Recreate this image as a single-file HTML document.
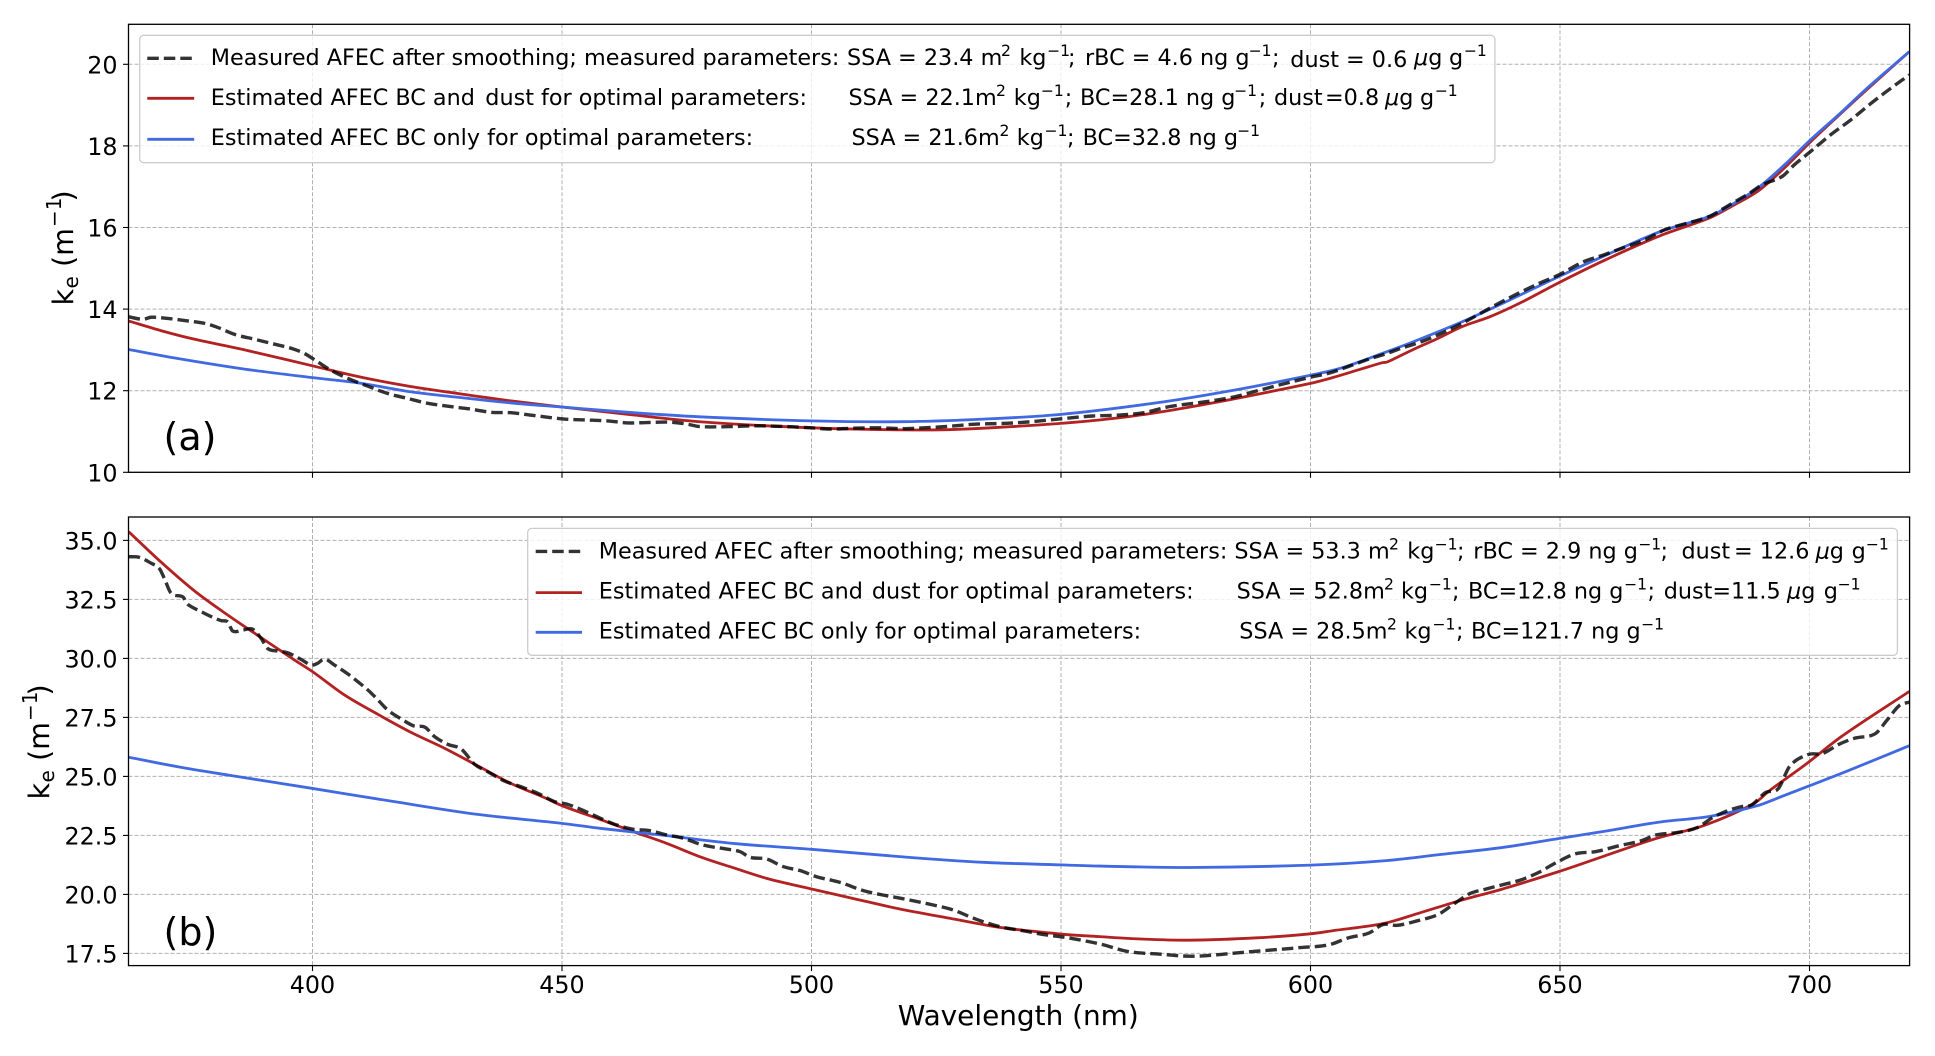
<!DOCTYPE html>
<html>
<head>
<meta charset="utf-8">
<title>AFEC spectra</title>
<style>
html,body{margin:0;padding:0;background:#fff;}
svg{display:block;font-family:"DejaVu Sans","Liberation Sans",sans-serif;fill:#000;}
.lg{font-size:22.3px;}
.sp{font-size:15.6px;}
.tk{font-size:23.8px;}
</style>
</head>
<body>
<svg id="chart" xmlns="http://www.w3.org/2000/svg" width="1935" height="1056" viewBox="0 0 1935 1056">
<defs>
<clipPath id="clipA"><rect x="128.5" y="24.3" width="1781.1" height="448"/></clipPath>
<clipPath id="clipB"><rect x="128.5" y="517" width="1781.1" height="448.6"/></clipPath>
</defs>
<g id="gridA"></g>
<g id="gridB"></g>
<g id="linesA" clip-path="url(#clipA)"></g>
<g id="linesB" clip-path="url(#clipB)"></g>
<g id="axesA"></g>
<g id="axesB"></g>

<text x="163.5" y="450" font-size="38">(a)</text>
<text x="163.5" y="945" font-size="38">(b)</text>

<g transform="translate(72.8,305.5) rotate(-90)">
<text y="0" font-size="28.6">k<tspan x="17" y="5" font-size="20">e</tspan><tspan x="38.5" y="0">(m</tspan><tspan x="78.5" y="-12" font-size="20">−1</tspan><tspan x="104" y="0">)</tspan></text>
</g>
<g transform="translate(49,799.5) rotate(-90)">
<text y="0" font-size="28.6">k<tspan x="17" y="5" font-size="20">e</tspan><tspan x="38.5" y="0">(m</tspan><tspan x="78.5" y="-12" font-size="20">−1</tspan><tspan x="104" y="0">)</tspan></text>
</g>
<text x="897.8" y="1025" font-size="27.9">Wavelength (nm)</text>

<g>
<rect x="139.7" y="35.3" width="1355.2" height="127.4" rx="4" fill="#fff" fill-opacity="0.8" stroke="#ccc" stroke-width="1.3"/>
<line x1="147.3" x2="194.2" y1="58.3" y2="58.3" stroke="#000" stroke-opacity="0.8" stroke-width="3.4" stroke-dasharray="11.5 5"/>
<line x1="147.3" x2="194.2" y1="98.3" y2="98.3" stroke="#b22222" stroke-width="2.8"/>
<line x1="147.3" x2="194.2" y1="139.3" y2="139.3" stroke="#4169e1" stroke-width="2.8"/>
<text class="lg" y="65" x="210.8">Measured AFEC after smoothing; measured parameters:<tspan x="847">SSA = 23.4 m</tspan><tspan class="sp" x="1001" y="56">2</tspan><tspan x="1019.4" y="65">kg</tspan><tspan class="sp" x="1047" y="56">−1</tspan><tspan x="1068" y="65">;</tspan><tspan x="1085">rBC = 4.6 ng g</tspan><tspan class="sp" x="1248.5" y="56">−1</tspan><tspan x="1272" y="65">;</tspan><tspan x="1290.3" y="67">dust = 0.6 </tspan><tspan x="1414" y="65" font-style="italic">μ</tspan><tspan>g</tspan><tspan x="1449">g</tspan><tspan class="sp" x="1463.8" y="56">−1</tspan></text>
<text class="lg" y="105" x="210.8">Estimated AFEC BC and<tspan x="485.3">dust for optimal parameters:</tspan><tspan x="848.5">SSA = 22.1m</tspan><tspan class="sp" x="996" y="96">2</tspan><tspan x="1013.8" y="105">kg</tspan><tspan class="sp" x="1040.8" y="96">−1</tspan><tspan x="1064.8" y="105">;</tspan><tspan x="1080">BC=28.1 ng g</tspan><tspan class="sp" x="1234" y="96">−1</tspan><tspan x="1258.7" y="105">;</tspan><tspan x="1274">dust</tspan><tspan x="1325">=0.8</tspan><tspan x="1385" font-style="italic">μ</tspan><tspan>g</tspan><tspan x="1420">g</tspan><tspan class="sp" x="1434.7" y="96">−1</tspan></text>
<text class="lg" y="145" x="210.8">Estimated AFEC BC only for optimal parameters:<tspan x="851.5">SSA = 21.6m</tspan><tspan class="sp" x="999.5" y="136">2</tspan><tspan x="1016.8" y="145">kg</tspan><tspan class="sp" x="1044.4" y="136">−1</tspan><tspan x="1067" y="145">;</tspan><tspan x="1082.6">BC=32.8 ng g</tspan><tspan class="sp" x="1237" y="136">−1</tspan></text>
</g>

<g>
<rect x="527.7" y="528.4" width="1369.7" height="126.9" rx="4" fill="#fff" fill-opacity="0.8" stroke="#ccc" stroke-width="1.3"/>
<line x1="535.7" x2="582" y1="551.4" y2="551.4" stroke="#000" stroke-opacity="0.8" stroke-width="3.4" stroke-dasharray="11.5 5"/>
<line x1="535.7" x2="582" y1="592.6" y2="592.6" stroke="#b22222" stroke-width="2.8"/>
<line x1="535.7" x2="582" y1="632.3" y2="632.3" stroke="#4169e1" stroke-width="2.8"/>
<text class="lg" y="558.5" x="598.8">Measured AFEC after smoothing; measured parameters:<tspan x="1234.4">SSA = 53.3 m</tspan><tspan class="sp" x="1389" y="549.5">2</tspan><tspan x="1407.3" y="558.5">kg</tspan><tspan class="sp" x="1434.5" y="549.5">−1</tspan><tspan x="1457" y="558.5">;</tspan><tspan x="1473.3">rBC = 2.9 ng g</tspan><tspan class="sp" x="1638.2" y="549.5">−1</tspan><tspan x="1660.5" y="558.5">;</tspan><tspan x="1681.5">dust</tspan><tspan x="1734">= 12.6</tspan><tspan x="1815.6" font-style="italic">μ</tspan><tspan>g</tspan><tspan x="1851.6">g</tspan><tspan class="sp" x="1865.8" y="549.5">−1</tspan></text>
<text class="lg" y="598.5" x="598.8">Estimated AFEC BC and<tspan x="871.9">dust for optimal parameters:</tspan><tspan x="1236.6">SSA = 52.8m</tspan><tspan class="sp" x="1384" y="589.5">2</tspan><tspan x="1401" y="598.5">kg</tspan><tspan class="sp" x="1428.8" y="589.5">−1</tspan><tspan x="1452" y="598.5">;</tspan><tspan x="1468">BC=12.8 ng g</tspan><tspan class="sp" x="1624" y="589.5">−1</tspan><tspan x="1647.5" y="598.5">;</tspan><tspan x="1663.7">dust=11.5</tspan><tspan x="1787" font-style="italic">μ</tspan><tspan>g</tspan><tspan x="1823.7">g</tspan><tspan class="sp" x="1837.5" y="589.5">−1</tspan></text>
<text class="lg" y="638.5" x="598.8">Estimated AFEC BC only for optimal parameters:<tspan x="1239.3">SSA = 28.5m</tspan><tspan class="sp" x="1387" y="629.5">2</tspan><tspan x="1404.5" y="638.5">kg</tspan><tspan class="sp" x="1432.4" y="629.5">−1</tspan><tspan x="1456" y="638.5">;</tspan><tspan x="1471">BC=121.7 ng g</tspan><tspan class="sp" x="1641" y="629.5">−1</tspan></text>
</g>
</svg>
<script>
var xTicks = [400, 450, 500, 550, 600, 650, 700];
var yTicksA = [10, 12, 14, 16, 18, 20];
var yTicksB = [17.5, 20, 22.5, 25, 27.5, 30, 32.5, 35];

var measuredAX = [363.15,366,367.7,371,375,378.4,381,384.4,388.4,392.4,395.7,398.4,401,403.7,407.1,411.1,415.1,419.1,423.1,427.1,431.1,435.8,439.8,443.8,447.8,451.2,455.2,459.2,463.2,467,471.6,475.1,477.6,483.7,488.9,495,500,503.7,508.3,513.4,518.5,522.6,527.7,532.8,539,544.1,550,556.3,561.4,566.6,571.7,577.8,584,590,595,600,604,608.4,612.1,615,618.2,622.2,626.3,630.4,634.4,637.7,641.7,645.8,649.8,654.7,658.8,662.8,666.9,670.9,675,679.9,683.9,688,690.4,694.5,696.9,700.2,704.2,708.3,712.3,715.6,720];
var measuredAY = [13.81,13.75,13.8,13.77,13.71,13.65,13.55,13.38,13.26,13.14,13.04,12.91,12.71,12.5,12.3,12.11,11.93,11.81,11.69,11.62,11.56,11.47,11.46,11.4,11.34,11.3,11.28,11.26,11.21,11.22,11.23,11.18,11.12,11.12,11.14,11.12,11.09,11.06,11.08,11.09,11.07,11.09,11.13,11.18,11.20,11.24,11.31,11.38,11.40,11.46,11.61,11.71,11.83,12.02,12.18,12.33,12.44,12.63,12.79,12.90,13.04,13.2,13.41,13.65,13.92,14.14,14.39,14.63,14.84,15.16,15.33,15.51,15.69,15.94,16.09,16.27,16.55,16.84,17.04,17.25,17.53,17.86,18.27,18.64,19.04,19.35,19.74];
var redAX = [363.15,369.7,376.4,386.4,400,409.8,419.8,429.8,439.8,450,463.2,477.6,500,518.5,528.7,550,564.5,579.9,600,604.4,610.1,614.5,615.3,620.6,625.5,630.4,636.1,642.5,649.8,658.8,670.1,679.9,684.7,690,695.3,700.2,705.8,711.5,720];
var redAY = [13.71,13.47,13.26,13.0,12.61,12.33,12.1,11.92,11.75,11.6,11.42,11.24,11.09,11.04,11.05,11.2,11.38,11.69,12.18,12.32,12.53,12.69,12.70,13.01,13.28,13.57,13.82,14.18,14.65,15.19,15.8,16.23,16.54,16.92,17.5,18.1,18.74,19.38,20.31];
var blueAX = [363.15,373,386.4,400,409.8,419.8,429.8,439.8,450,463.2,477.6,500,518.5,533.8,550,569.6,585,600,606,614.5,620.6,630.4,638.5,649.8,658.8,670.1,679.9,684.7,690,695.3,700.2,705.8,711.5,720];
var blueAY = [13.01,12.79,12.53,12.32,12.18,11.97,11.83,11.70,11.6,11.47,11.36,11.26,11.24,11.30,11.42,11.71,12.02,12.38,12.55,12.92,13.2,13.69,14.14,14.8,15.3,15.9,16.27,16.58,17.0,17.57,18.15,18.76,19.41,20.31];

var measuredBX = [363.15,365.3,367.7,369.3,370.3,371.7,374,375,377.7,379.7,381.7,383,384,386,388,389.7,391,393,395,397.7,399.7,401,402.4,404.4,407.1,409.1,411.1,412.8,415.1,417.8,420.4,422.5,424.5,427.1,429.8,432.5,435.1,438.5,441.8,445.2,448.5,451.2,455.2,458.5,461,464.3,467.6,471,474.3,478.3,483,485.7,487.7,491,494.3,497.7,501,505.7,510.4,514.4,519,524.4,528.4,533.1,537.8,542.4,547.1,551.1,557.8,563.4,569.6,575.9,581.3,585.7,592,597.6,603.6,607.6,611.7,614.5,617.4,621.4,625.5,628.7,632,635.2,638.5,642.1,645.8,649,653.1,657.1,662,666.1,669.3,673.4,677.4,680.7,683.9,686.4,688.4,691.2,693.7,696.1,699.8,702.6,705.8,709.1,713.1,715.6,718,720];
var measuredBY = [34.31,34.28,34.03,33.81,33.39,32.75,32.61,32.29,31.98,31.77,31.6,31.55,31.16,31.2,31.24,30.85,30.42,30.31,30.24,29.96,29.72,29.79,29.97,29.72,29.34,29.01,28.66,28.31,27.81,27.43,27.13,27.09,26.68,26.36,26.16,25.51,25.2,24.8,24.56,24.28,23.93,23.81,23.47,23.15,22.94,22.76,22.7,22.52,22.38,22.09,21.92,21.81,21.57,21.5,21.18,21.01,20.75,20.51,20.16,19.97,19.79,19.55,19.34,18.94,18.63,18.46,18.28,18.17,17.9,17.58,17.47,17.38,17.44,17.53,17.64,17.74,17.86,18.16,18.36,18.72,18.69,18.88,19.14,19.59,20.04,20.23,20.41,20.61,20.94,21.32,21.72,21.81,22.07,22.26,22.52,22.62,22.82,23.27,23.57,23.72,23.79,24.32,24.47,25.45,25.93,25.97,26.35,26.62,26.8,27.4,28,28.15];
var redBX = [363.15,369.7,376.4,383,389.7,396.4,400,406.4,413.1,419.8,426.5,433.1,439.8,446.5,450,457.6,464.3,471,477.6,484.3,491,500,507.7,517.7,527.7,537.8,550,557.8,566,575.9,589.3,600,604.4,614.5,621.8,630,638.5,649.8,658.8,669.3,679.1,688.8,692,699.3,706.6,720];
var redBY = [35.37,34.07,32.85,31.84,30.88,29.93,29.44,28.45,27.63,26.86,26.19,25.45,24.7,24.1,23.76,23.18,22.66,22.16,21.6,21.13,20.68,20.23,19.86,19.38,18.99,18.6,18.32,18.21,18.11,18.06,18.16,18.33,18.46,18.76,19.21,19.74,20.23,20.97,21.62,22.37,22.94,23.84,24.4,25.52,26.72,28.6];
var blueBX = [363.15,373,383,400,416.4,433.1,450,457.6,471,484.3,500,517.7,534.4,550,557.8,575.9,600,614.5,626,638.5,649.8,658.8,670.1,679.9,689.6,693.7,700.2,707.5,720];
var blueBY = [25.81,25.41,25.06,24.49,23.93,23.39,23.01,22.8,22.49,22.16,21.91,21.6,21.36,21.25,21.2,21.14,21.24,21.42,21.69,21.99,22.37,22.67,23.07,23.3,23.76,24.09,24.62,25.22,26.3];

var NS = 'http://www.w3.org/2000/svg';

function xScale(w) { return 312.5 + (w - 400) * 4.99; }
function yScaleA(v) { return 472.3 - (v - 10) * 40.8; }
function yScaleB(v) { return 953.4 - (v - 17.5) * 23.6; }

function slopeAt(px, py, i) {
  var a = Math.max(i - 1, 0), b = Math.min(i + 1, px.length - 1);
  return (py[b] - py[a]) / (px[b] - px[a]);
}

function toPath(xs, ys, yFn) {
  var px = xs.map(xScale);
  var py = ys.map(yFn);
  var d = 'M' + px[0].toFixed(2) + ' ' + py[0].toFixed(2);
  for (var i = 0; i < px.length - 1; i++) {
    var dx = px[i + 1] - px[i];
    var c1x = px[i] + dx / 3, c1y = py[i] + slopeAt(px, py, i) * dx / 3;
    var c2x = px[i + 1] - dx / 3, c2y = py[i + 1] - slopeAt(px, py, i + 1) * dx / 3;
    d += 'C' + c1x.toFixed(2) + ' ' + c1y.toFixed(2) + ' ' + c2x.toFixed(2) + ' ' + c2y.toFixed(2) + ' ' + px[i + 1].toFixed(2) + ' ' + py[i + 1].toFixed(2);
  }
  return d;
}

function addSeries(parent, xs, ys, yFn, color, width, dash, opacity, name) {
  var el = document.createElementNS(NS, 'path');
  el.setAttribute('d', toPath(xs, ys, yFn));
  el.setAttribute('fill', 'none');
  el.setAttribute('stroke', color);
  el.setAttribute('stroke-width', width);
  el.setAttribute('stroke-linejoin', 'round');
  if (dash) el.setAttribute('stroke-dasharray', dash);
  if (opacity) el.setAttribute('stroke-opacity', opacity);
  
  
  parent.appendChild(el);
}

function addLine(parent, x1, y1, x2, y2, color, width, dash, name) {
  var el = document.createElementNS(NS, 'line');
  el.setAttribute('x1', x1);
  el.setAttribute('y1', y1);
  el.setAttribute('x2', x2);
  el.setAttribute('y2', y2);
  el.setAttribute('stroke', color);
  el.setAttribute('stroke-width', width);
  if (dash) el.setAttribute('stroke-dasharray', dash);
  
  
  parent.appendChild(el);
}

function addLabel(parent, x, y, anchor, str, name) {
  var el = document.createElementNS(NS, 'text');
  el.setAttribute('x', x);
  el.setAttribute('y', y);
  el.setAttribute('text-anchor', anchor);
  el.setAttribute('class', 'tk');
  el.textContent = str;
  
  
  parent.appendChild(el);
}

function drawPanel(gridG, axesG, yFn, yTicks, top, bottom, decimals, showXLabels) {
  var left = 128.5, right = 1909.6;
  xTicks.forEach(function (t) {
    var x = xScale(t);
    addLine(gridG, x, top, x, bottom, '#b0b0b0', 1, '4 2', 'grid-line-x');
    addLine(axesG, x, bottom, x, bottom + 5.5, '#000', 1.1, null, 'x-tick');
    if (showXLabels) addLabel(axesG, x, 993, 'middle', String(t), 'x-tick-label');
  });
  yTicks.forEach(function (t) {
    var y = yFn(t);
    addLine(gridG, left, y, right, y, '#b0b0b0', 1, '4 2', 'grid-line-y');
    addLine(axesG, left - 5.5, y, left, y, '#000', 1.1, null, 'y-tick');
    addLabel(axesG, 117.5, y + 9, 'end', t.toFixed(decimals), 'y-tick-label');
  });
  var frame = document.createElementNS(NS, 'rect');
  frame.setAttribute('x', left);
  frame.setAttribute('y', top);
  frame.setAttribute('width', right - left);
  frame.setAttribute('height', bottom - top);
  frame.setAttribute('fill', 'none');
  frame.setAttribute('stroke', '#000');
  frame.setAttribute('stroke-width', 1.3);
  
  
  axesG.appendChild(frame);
}

var gridA = document.getElementById('gridA');
var gridB = document.getElementById('gridB');
var axesA = document.getElementById('axesA');
var axesB = document.getElementById('axesB');
var linesA = document.getElementById('linesA');
var linesB = document.getElementById('linesB');

drawPanel(gridA, axesA, yScaleA, yTicksA, 24.3, 472.3, 0, false);
drawPanel(gridB, axesB, yScaleB, yTicksB, 517, 965.6, 1, true);

addSeries(linesA, redAX, redAY, yScaleA, '#b22222', 2.8, null, null, 'panel-a-estimated-bc-dust-line');
addSeries(linesA, blueAX, blueAY, yScaleA, '#4169e1', 2.8, null, null, 'panel-a-estimated-bc-only-line');
addSeries(linesA, measuredAX, measuredAY, yScaleA, '#000', 3.4, '11.5 5', '0.8', 'panel-a-measured-line');
addSeries(linesB, redBX, redBY, yScaleB, '#b22222', 2.8, null, null, 'panel-b-estimated-bc-dust-line');
addSeries(linesB, blueBX, blueBY, yScaleB, '#4169e1', 2.8, null, null, 'panel-b-estimated-bc-only-line');
addSeries(linesB, measuredBX, measuredBY, yScaleB, '#000', 3.4, '11.5 5', '0.8', 'panel-b-measured-line');
</script>
</body>
</html>
